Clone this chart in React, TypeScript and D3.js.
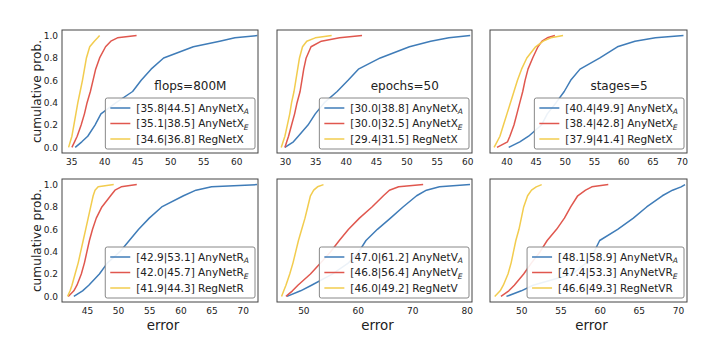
import React, { useEffect, useRef } from "react";
import * as d3 from "d3";

const levels = [0, 0.05, 0.1, 0.2, 0.3, 0.4, 0.5, 0.6, 0.7, 0.8, 0.9, 0.95, 0.98, 1.0];

// top row: flops=800M
const flopsXA = [35.6, 36.6, 37.5, 38.6, 39.5, 41.8, 44.3, 45.6, 47.1, 49.0, 53.5, 57.5, 59.8, 63.2];
const flopsXE = [35.1, 35.5, 35.9, 36.5, 37.0, 37.4, 37.9, 38.3, 38.7, 39.3, 40.2, 41.0, 42.0, 44.9];
const flopsRegX = [34.6, 34.85, 35.1, 35.4, 35.7, 36.0, 36.35, 36.7, 37.0, 37.3, 37.8, 38.5, 39.0, 39.3];
// top row: epochs=50
const epochsXA = [30.0, 31.4, 32.2, 33.8, 35.0, 36.5, 38.6, 40.4, 42.1, 45.7, 50.5, 54.0, 57.0, 60.5];
const epochsXE = [30.0, 30.3, 30.6, 31.1, 31.6, 32.0, 32.5, 32.8, 33.1, 33.5, 34.3, 36.0, 39.0, 42.7];
const epochsRegX = [29.4, 29.7, 30.0, 30.4, 30.8, 31.1, 31.5, 31.8, 32.1, 32.4, 32.9, 33.6, 35.0, 37.7];
// top row: stages=5
const stagesXA = [40.4, 42.3, 43.8, 46.0, 47.0, 48.5, 49.9, 51.0, 52.6, 56.0, 59.0, 62.0, 65.5, 70.3];
const stagesXE = [38.4, 40.2, 40.6, 41.3, 41.8, 42.3, 42.8, 43.2, 43.7, 44.5, 45.4, 46.1, 47.0, 48.3];
const stagesRegX = [37.9, 38.4, 38.9, 39.5, 40.1, 40.7, 41.3, 41.9, 42.6, 43.5, 45.0, 46.3, 47.6, 49.7];
// bottom row: R, V, VR
const netRA = [42.9, 44.3, 45.3, 47.0, 48.3, 50.3, 51.8, 53.3, 55.0, 57.0, 60.5, 62.5, 65.0, 72.3];
const netRE = [42.0, 42.9, 43.4, 44.1, 44.6, 45.0, 45.4, 45.9, 46.5, 47.4, 48.8, 49.5, 50.5, 53.0];
const regNetR = [41.9, 42.3, 42.6, 43.1, 43.6, 44.0, 44.4, 44.8, 45.2, 45.6, 46.0, 46.3, 46.8, 49.3];
const netVA = [47.0, 49.5, 51.5, 55.3, 58.3, 60.2, 61.5, 63.6, 66.0, 68.3, 70.8, 72.6, 75.0, 80.6];
const netVE = [46.8, 48.0, 49.0, 51.3, 53.2, 55.0, 56.6, 58.3, 60.3, 62.6, 64.7, 65.8, 67.5, 72.0];
const regNetV = [46.0, 46.4, 46.8, 47.5, 48.1, 48.6, 49.1, 49.7, 50.3, 50.8, 51.3, 51.9, 52.6, 53.7];
const netVRA = [48.1, 50.0, 51.5, 56.5, 58.3, 59.3, 60.0, 62.3, 64.3, 66.0, 68.0, 69.3, 70.4, 70.9];
const netVRE = [47.4, 48.4, 49.1, 50.3, 51.3, 52.4, 53.3, 54.5, 55.5, 56.3, 57.2, 58.2, 59.0, 61.1];
const regNetVR = [46.6, 47.3, 47.7, 48.3, 48.7, 49.0, 49.3, 49.7, 50.0, 50.3, 50.8, 51.3, 51.9, 52.6];

const yTicks = [0, 0.2, 0.4, 0.6, 0.8, 1.0];
const colors = ["#3f7cb8", "#e0574e", "#f2cc4e"];

const panels = [
  {
    note: "flops=800M",
    xDomain: [33.6, 63.3],
    xTicks: [35, 40, 45, 50, 55, 60],
    series: [
      { name: "AnyNetX", sub: "A", range: "[35.8|44.5]", values: flopsXA },
      { name: "AnyNetX", sub: "E", range: "[35.1|38.5]", values: flopsXE },
      { name: "RegNetX", sub: "", range: "[34.6|36.8]", values: flopsRegX },
    ],
  },
  {
    note: "epochs=50",
    xDomain: [28.7, 60.8],
    xTicks: [30, 35, 40, 45, 50, 55, 60],
    series: [
      { name: "AnyNetX", sub: "A", range: "[30.0|38.8]", values: epochsXA },
      { name: "AnyNetX", sub: "E", range: "[30.0|32.5]", values: epochsXE },
      { name: "RegNetX", sub: "", range: "[29.4|31.5]", values: epochsRegX },
    ],
  },
  {
    note: "stages=5",
    xDomain: [37.2, 70.9],
    xTicks: [40, 45, 50, 55, 60, 65, 70],
    series: [
      { name: "AnyNetX", sub: "A", range: "[40.4|49.9]", values: stagesXA },
      { name: "AnyNetX", sub: "E", range: "[38.4|42.8]", values: stagesXE },
      { name: "RegNetX", sub: "", range: "[37.9|41.4]", values: stagesRegX },
    ],
  },
  {
    note: "",
    xDomain: [41.0, 72.45],
    xTicks: [45, 50, 55, 60, 65, 70],
    series: [
      { name: "AnyNetR", sub: "A", range: "[42.9|53.1]", values: netRA },
      { name: "AnyNetR", sub: "E", range: "[42.0|45.7]", values: netRE },
      { name: "RegNetR", sub: "", range: "[41.9|44.3]", values: regNetR },
    ],
  },
  {
    note: "",
    xDomain: [45.16, 80.97],
    xTicks: [50, 60, 70, 80],
    series: [
      { name: "AnyNetV", sub: "A", range: "[47.0|61.2]", values: netVA },
      { name: "AnyNetV", sub: "E", range: "[46.8|56.4]", values: netVE },
      { name: "RegNetV", sub: "", range: "[46.0|49.2]", values: regNetV },
    ],
  },
  {
    note: "",
    xDomain: [46.0, 71.15],
    xTicks: [50, 55, 60, 65, 70],
    series: [
      { name: "AnyNetVR", sub: "A", range: "[48.1|58.9]", values: netVRA },
      { name: "AnyNetVR", sub: "E", range: "[47.4|53.3]", values: netVRE },
      { name: "RegNetVR", sub: "", range: "[46.6|49.3]", values: regNetVR },
    ],
  },
];

const App = () => {
  const svgRef = useRef<SVGSVGElement>(null);

  useEffect(() => {
    const width = 710;
    const height = 340;
    const cols = [[62, 258], [277, 472], [490, 687]];
    const rows = [[30, 153], [179, 302]];
    const font = "DejaVu Sans, sans-serif";

    const svg = d3
      .select(svgRef.current)
      .attr("width", width)
      .attr("height", height)
      .attr("viewBox", `0 0 ${width} ${height}`)
      .style("font-family", font);

    svg.selectAll("*").remove();
    svg.append("rect").attr("width", width).attr("height", height).attr("fill", "#fff");

    panels.forEach((p, i) => {
      const [x0, x1] = cols[i % 3];
      const [y0, y1] = rows[Math.floor(i / 3)];
      const x = d3.scaleLinear().domain(p.xDomain).range([x0, x1]);
      const y = d3.scaleLinear().domain([-0.05, 1.05]).range([y1, y0]);
      const g = svg.append("g");

      const line = d3
        .line<[number, number]>()
        .x((d) => x(d[0]))
        .y((d) => y(d[1]));

      p.series.forEach((s, k) => {
        const pts = levels.map((lv, j) => [s.values[j], lv] as [number, number]);
        g.append("path")
          .datum(pts)
          .attr("d", line)
          .attr("fill", "none")
          .attr("stroke", colors[k])
          .attr("stroke-width", 1.5)
          .attr("stroke-linejoin", "round");
      });

      // frame
      g.append("rect")
        .attr("x", x0)
        .attr("y", y0)
        .attr("width", x1 - x0)
        .attr("height", y1 - y0)
        .attr("fill", "none")
        .attr("stroke", "#444")
        .attr("stroke-width", 1);

      // x axis labels
      const xAxis = g
        .append("g")
        .attr("transform", `translate(0,${y1})`)
        .call(d3.axisBottom(x).tickValues(p.xTicks).tickSize(0).tickPadding(6).tickFormat(d3.format("d")));
      xAxis.select(".domain").remove();
      xAxis.selectAll("text").attr("font-size", 9).attr("font-family", font).attr("fill", "#222");

      if (i % 3 === 0) {
        const yAxis = g
          .append("g")
          .attr("transform", `translate(${x0},0)`)
          .call(d3.axisLeft(y).tickValues(yTicks).tickSize(0).tickPadding(4).tickFormat(d3.format(".1f")));
        yAxis.select(".domain").remove();
        yAxis.selectAll("text").attr("font-size", 9).attr("font-family", font).attr("fill", "#222");

        g.append("text")
          .attr("transform", `translate(37,${(y0 + y1) / 2}) rotate(-90)`)
          .attr("text-anchor", "middle")
          .attr("dy", "0.35em")
          .attr("font-size", 12.2)
          .attr("fill", "#222")
          .text("cumulative prob.");
      }

      if (i >= 3) {
        g.append("text")
          .attr("x", (x0 + x1) / 2 + 3)
          .attr("y", 330)
          .attr("text-anchor", "middle")
          .attr("font-size", 13.4)
          .attr("fill", "#222")
          .text("error");
      }

      if (p.note) {
        g.append("text")
          .attr("x", x0 + 0.655 * (x1 - x0))
          .attr("y", y0 + 0.455 * (y1 - y0))
          .attr("dy", "0.35em")
          .attr("text-anchor", "middle")
          .attr("font-size", 12)
          .attr("fill", "#222")
          .text(p.note);
      }

      // legend
      const lg = g.append("g");
      const box = lg
        .append("rect")
        .attr("fill", "#fff")
        .attr("fill-opacity", 0.9)
        .attr("stroke", "#888")
        .attr("stroke-width", 1)
        .attr("rx", 2);
      const rowH = 15.5;
      let maxW = 0;
      p.series.forEach((s, k) => {
        const cy = 10 + k * rowH;
        lg.append("line")
          .attr("x1", 5)
          .attr("x2", 25)
          .attr("y1", cy)
          .attr("y2", cy)
          .attr("stroke", colors[k])
          .attr("stroke-width", 1.5);
        const t = lg
          .append("text")
          .attr("x", 31)
          .attr("y", cy)
          .attr("dy", "0.35em")
          .attr("font-size", 10.5)
          .attr("fill", "#222");
        t.append("tspan").text(`${s.range} ${s.name}`);
        if (s.sub) {
          t.append("tspan")
            .attr("dy", 2.5)
            .attr("font-size", 7.5)
            .attr("font-style", "italic")
            .text(s.sub);
        }
        const w = (t.node() as SVGTextElement).getComputedTextLength();
        if (w > maxW) maxW = w;
      });
      const bw = 31 + maxW + 6;
      const bh = 3 * rowH + 4.5;
      box.attr("width", bw).attr("height", bh);
      lg.attr("transform", `translate(${x1 - 3 - bw},${y1 - 4 - bh})`);
    });
  }, []);

  return (
    <div style={{ position: "absolute", left: 0, top: 0, width: 710, height: 340, background: "#fff" }}>
      <svg ref={svgRef}></svg>
    </div>
  );
};

export default App;
